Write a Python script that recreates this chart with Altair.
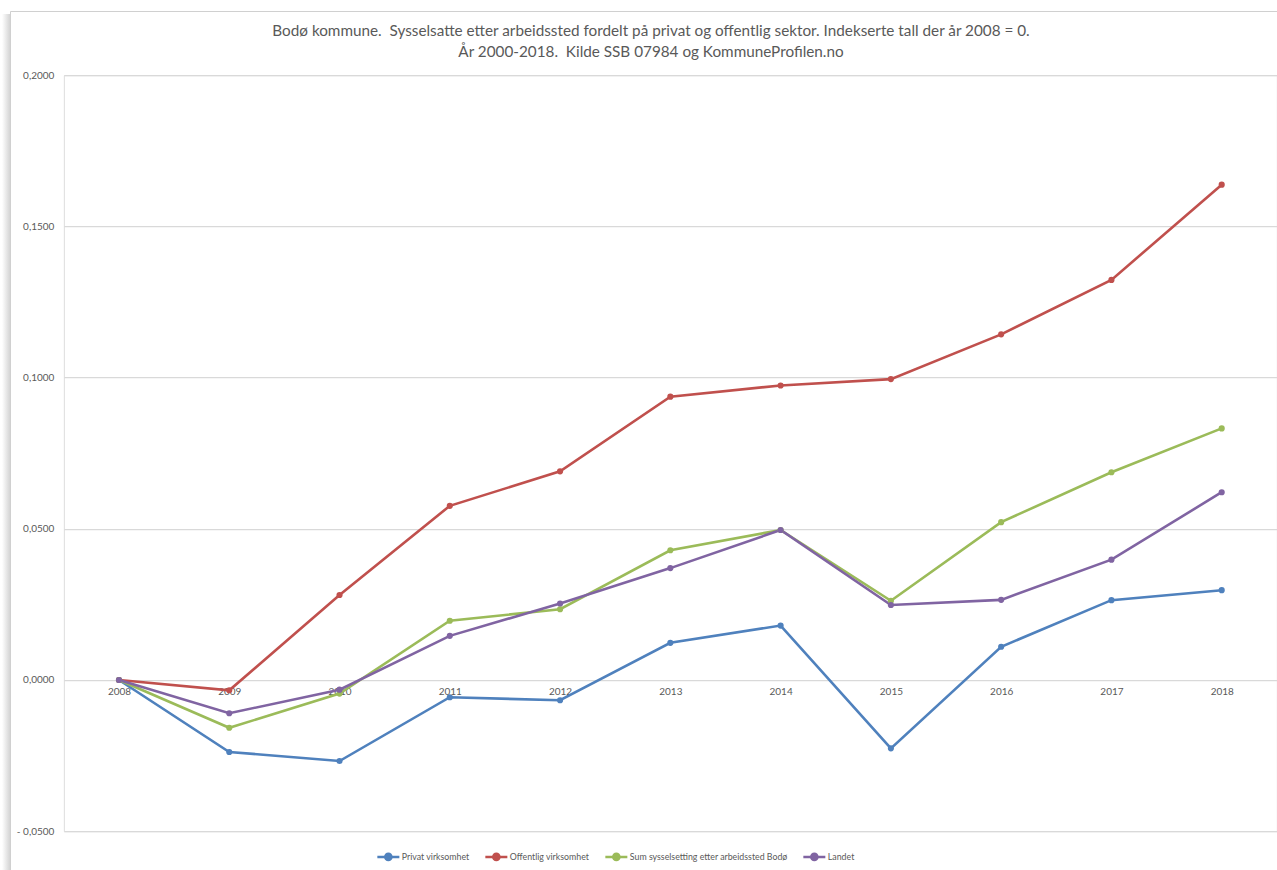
import altair as alt
import pandas as pd

# Indexed employment figures, 2008 = 0
years = [2008, 2009, 2010, 2011, 2012, 2013, 2014, 2015, 2016, 2017, 2018]
privat = [0.0, -0.0238, -0.0268, -0.0057, -0.0067, 0.0123, 0.0180, -0.0226, 0.0110, 0.0264, 0.0297]
offentlig = [0.0, -0.0034, 0.0281, 0.0576, 0.0690, 0.0937, 0.0974, 0.0995, 0.1143, 0.1323, 0.1638]
sum_bodo = [0.0, -0.0158, -0.0045, 0.0196, 0.0234, 0.0429, 0.0496, 0.0262, 0.0522, 0.0687, 0.0832]
landet = [0.0, -0.0110, -0.0032, 0.0146, 0.0253, 0.0370, 0.0496, 0.0248, 0.0265, 0.0398, 0.0621]

series_names = [
    "Privat virksomhet",
    "Offentlig virksomhet",
    "Sum sysselsetting etter arbeidssted Bodø",
    "Landet",
]
series_colors = ["#4F81BD", "#C0504D", "#9BBB59", "#8064A2"]
y_ticks = [-0.05, 0.0, 0.05, 0.1, 0.15, 0.2]

# Non-breaking spaces keep the double spacing after the full stops
title_lines = [
    "Bodø kommune.\u00a0 Sysselsatte etter arbeidssted fordelt på privat og offentlig sektor. Indekserte tall der år 2008 = 0.",
    "År 2000-2018.\u00a0 Kilde SSB 07984 og KommuneProfilen.no",
]

rows = []
for name, vals in zip(series_names, [privat, offentlig, sum_bodo, landet]):
    for yr, v in zip(years, vals):
        rows.append({"year": str(yr), "serie": name, "value": v})
df = pd.DataFrame(rows)

FONT = "Lato"
GREY = "#595959"
W, H = 1213, 756
LEFT, TOP = 63.85, 75.2

label_expr = (
    "datum.value < 0 ? '- ' + replace(format(-datum.value, '.4f'), '.', ',')"
    " : replace(format(datum.value, '.4f'), '.', ',')"
)

color = alt.Color(
    "serie:N",
    scale=alt.Scale(domain=series_names, range=series_colors),
    sort=series_names,
    legend=alt.Legend(
        title=None,
        orient="none",
        direction="horizontal",
        legendX=312,
        legendY=769,
        symbolType="M-1,0H1M-0.28,0A0.28,0.28,0,1,1,0.28,0A0.28,0.28,0,1,1,-0.28,0Z",
        symbolSize=484,
        symbolStrokeWidth=2.5,
        labelFont=FONT,
        labelFontSize=8.8,
        labelColor=GREY,
        labelOffset=1,
        labelLimit=0,
        columnPadding=10,
    ),
)

x = alt.X(
    "year:O",
    sort=[str(y) for y in years],
    scale=alt.Scale(type="point", padding=0.5),
    axis=alt.Axis(
        title=None,
        labelAngle=0,
        domain=False,
        ticks=False,
        grid=False,
        offset=-151.2,
        labelPadding=7,
        labelFont=FONT,
        labelFontSize=10,
        labelColor=GREY,
    ),
)
y = alt.Y(
    "value:Q",
    scale=alt.Scale(domain=[-0.05, 0.2], nice=False, zero=False),
    axis=alt.Axis(
        title=None,
        values=y_ticks,
        labelExpr=label_expr,
        domain=False,
        ticks=False,
        gridColor="#d9d9d9",
        gridWidth=1.2,
        labelPadding=10,
        labelFont=FONT,
        labelFontSize=10,
        labelColor=GREY,
    ),
)

one = pd.DataFrame({"a": [0]})

# Outer chart frame with a soft shadow on its left side
shadow = alt.Chart(one).mark_rect(
    fill=alt.Gradient(
        gradient="linear",
        stops=[
            alt.GradientStop(color="#ffffff", offset=0),
            alt.GradientStop(color="#d4d4d4", offset=1),
        ],
        x1=0, x2=1, y1=0, y2=0,
    ),
).encode(x=alt.value(-LEFT + 2), x2=alt.value(-LEFT + 10), y=alt.value(-TOP + 14), y2=alt.value(820))
frame = alt.Chart(one).mark_rect(
    fill=None, stroke="#d0d0d0", strokeWidth=1
).encode(x=alt.value(-LEFT + 10.5), x2=alt.value(1300), y=alt.value(-TOP + 11.5), y2=alt.value(820))

# Two-line chart title
title1 = alt.Chart(pd.DataFrame({"t": [title_lines[0]]})).mark_text(
    font=FONT, fontSize=15.3, color=GREY, align="center", baseline="middle"
).encode(text="t:N", x=alt.value(651 - LEFT), y=alt.value(31 - TOP))
title2 = alt.Chart(pd.DataFrame({"t": [title_lines[1]]})).mark_text(
    font=FONT, fontSize=15.3, color=GREY, align="center", baseline="middle"
).encode(text="t:N", x=alt.value(651 - LEFT), y=alt.value(52 - TOP))

lines = alt.Chart(df).mark_line(strokeWidth=2.6).encode(x=x, y=y, color=color)
points = alt.Chart(df).mark_point(filled=True, size=38, opacity=1).encode(
    x=x,
    y=y,
    color=alt.Color("serie:N", scale=alt.Scale(domain=series_names, range=series_colors), legend=None),
)

chart = (
    alt.layer(shadow, frame, title1, title2, lines, points)
    .properties(
        width=W,
        height=H,
        autosize=alt.AutoSizeParams(type="none"),
        padding={"left": LEFT, "top": TOP, "right": 0, "bottom": 38.8},
    )
    .configure_view(stroke=None)
    .configure(background="white")
)

chart.save("out.html", embed_options={"renderer": "svg", "actions": False})
